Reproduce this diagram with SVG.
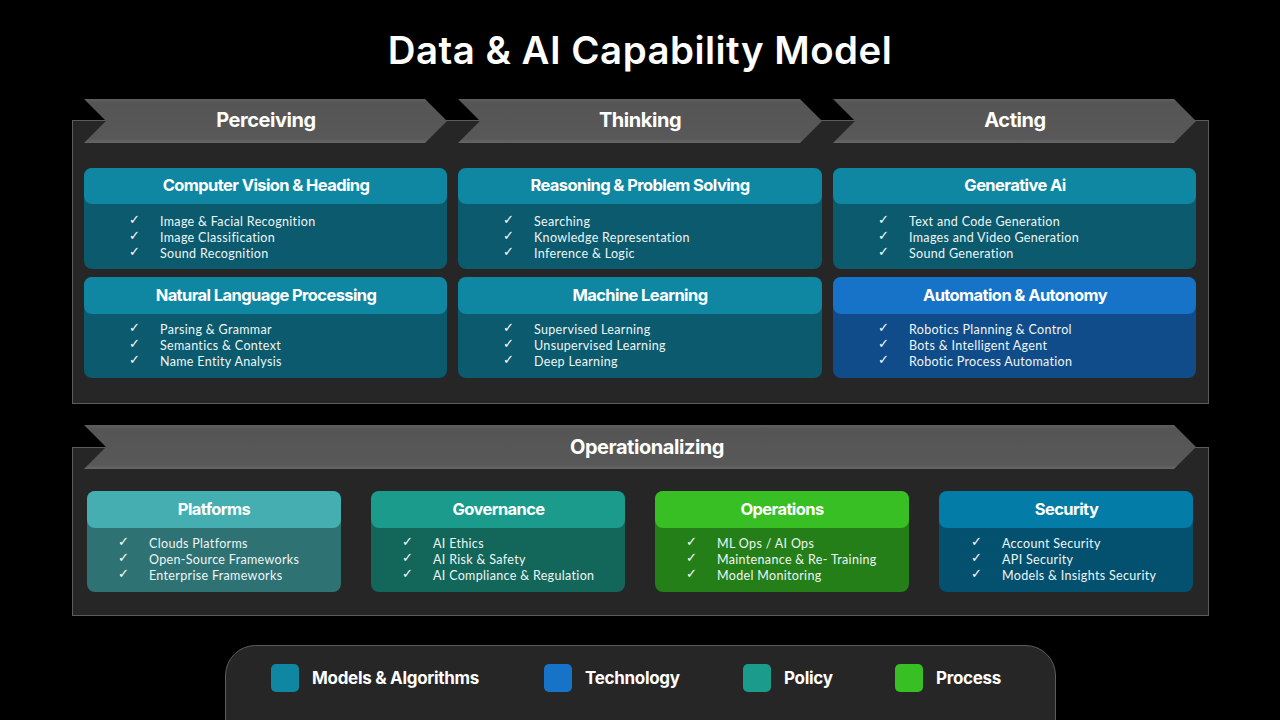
<svg xmlns="http://www.w3.org/2000/svg" width="1280" height="720" viewBox="0 0 1280 720">
<style>
text{font-family:"Inter","Liberation Sans",sans-serif;fill:#fff}
.title{font-size:38.400px;font-weight:600;text-anchor:middle;letter-spacing:.5px}
.ch{font-size:20px;font-weight:700;text-anchor:middle;letter-spacing:-.45px}
.h{font-size:16.500px;font-weight:700;text-anchor:middle;letter-spacing:-.6px}
.b{font-family:"Lato","Liberation Sans",sans-serif;font-size:12.500px;fill:#eef6f6;letter-spacing:.33px}
.c{font-family:"DejaVu Sans",sans-serif;font-size:13px;fill:#fff}
.l{font-size:17px;font-weight:700;letter-spacing:-.3px}
.panel{fill:#262626;stroke:#5c5c5c;stroke-width:1}
.chev{fill:url(#cg)}
</style>
<defs>
<linearGradient id="cg" x1="0" y1="0" x2="0" y2="1"><stop offset="0" stop-color="#5e5e5e"/><stop offset=".1" stop-color="#555"/><stop offset=".9" stop-color="#585858"/><stop offset="1" stop-color="#666"/></linearGradient>
</defs>
<rect width="1280" height="720" fill="#000"/>
<text class="title" x="640" y="64">Data &amp; AI Capability Model</text>
<rect class="panel" x="72.500" y="120.500" width="1136" height="283"/>
<rect class="panel" x="72.500" y="447.500" width="1136" height="168"/>
<g id="chev-perceiving"><path class="chev" d="M84 99H425L447 121L425 143H84L106 121Z"/><text class="ch" x="266" y="126.500">Perceiving</text></g>
<g id="chev-thinking"><path class="chev" d="M458 99H800L822 121L800 143H458L480 121Z"/><text class="ch" x="640" y="126.500">Thinking</text></g>
<g id="chev-acting"><path class="chev" d="M833 99H1174L1196 121L1174 143H833L855 121Z"/><text class="ch" x="1015" y="126.500">Acting</text></g>
<g id="chev-operationalizing"><path class="chev" d="M84 425H1174L1196 447L1174 469H84L106 447Z"/><text class="ch" x="647" y="453.500">Operationalizing</text></g>

<g id="card-vision"><rect x="84" y="168" width="363" height="101" rx="8" fill="#0b5a6e"/><rect x="84" y="168" width="363" height="36" rx="8" fill="#0f87a3"/><text class="h" x="266" y="190.500">Computer Vision &amp; Heading</text>
<text class="c" x="129" y="224">✓</text><text class="b" x="160" y="225.500">Image &amp; Facial Recognition</text>
<text class="c" x="129" y="240">✓</text><text class="b" x="160" y="241.500">Image Classification</text>
<text class="c" x="129" y="256">✓</text><text class="b" x="160" y="257.500">Sound Recognition</text></g>

<g id="card-reasoning"><rect x="458" y="168" width="364" height="101" rx="8" fill="#0b5a6e"/><rect x="458" y="168" width="364" height="36" rx="8" fill="#0f87a3"/><text class="h" x="640" y="190.500">Reasoning &amp; Problem Solving</text>
<text class="c" x="503" y="224">✓</text><text class="b" x="534" y="225.500">Searching</text>
<text class="c" x="503" y="240">✓</text><text class="b" x="534" y="241.500">Knowledge Representation</text>
<text class="c" x="503" y="256">✓</text><text class="b" x="534" y="257.500">Inference &amp; Logic</text></g>

<g id="card-generative"><rect x="833" y="168" width="363" height="101" rx="8" fill="#0b5a6e"/><rect x="833" y="168" width="363" height="36" rx="8" fill="#0f87a3"/><text class="h" x="1015" y="190.500">Generative Ai</text>
<text class="c" x="878" y="224">✓</text><text class="b" x="909" y="225.500">Text and Code Generation</text>
<text class="c" x="878" y="240">✓</text><text class="b" x="909" y="241.500">Images and Video Generation</text>
<text class="c" x="878" y="256">✓</text><text class="b" x="909" y="257.500">Sound Generation</text></g>

<g id="card-nlp"><rect x="84" y="277" width="363" height="101" rx="8" fill="#0b5a6e"/><rect x="84" y="277" width="363" height="37" rx="8" fill="#0f87a3"/><text class="h" x="266" y="300.500">Natural Language Processing</text>
<text class="c" x="129" y="332">✓</text><text class="b" x="160" y="333.500">Parsing &amp; Grammar</text>
<text class="c" x="129" y="348">✓</text><text class="b" x="160" y="349.500">Semantics &amp; Context</text>
<text class="c" x="129" y="364">✓</text><text class="b" x="160" y="365.500">Name Entity Analysis</text></g>

<g id="card-ml"><rect x="458" y="277" width="364" height="101" rx="8" fill="#0b5a6e"/><rect x="458" y="277" width="364" height="37" rx="8" fill="#0f87a3"/><text class="h" x="640" y="300.500">Machine Learning</text>
<text class="c" x="503" y="332">✓</text><text class="b" x="534" y="333.500">Supervised Learning</text>
<text class="c" x="503" y="348">✓</text><text class="b" x="534" y="349.500">Unsupervised Learning</text>
<text class="c" x="503" y="364">✓</text><text class="b" x="534" y="365.500">Deep Learning</text></g>

<g id="card-automation"><rect x="833" y="277" width="363" height="101" rx="8" fill="#114c8a"/><rect x="833" y="277" width="363" height="37" rx="8" fill="#1673c7"/><text class="h" x="1015" y="300.500">Automation &amp; Autonomy</text>
<text class="c" x="878" y="332">✓</text><text class="b" x="909" y="333.500">Robotics Planning &amp; Control</text>
<text class="c" x="878" y="348">✓</text><text class="b" x="909" y="349.500">Bots &amp; Intelligent Agent</text>
<text class="c" x="878" y="364">✓</text><text class="b" x="909" y="365.500">Robotic Process Automation</text></g>

<g id="card-platforms"><rect x="87" y="491" width="254" height="101" rx="8" fill="#2f7273"/><rect x="87" y="491" width="254" height="37" rx="8" fill="#45aeb1"/><text class="h" x="214" y="514.500">Platforms</text>
<text class="c" x="118" y="546">✓</text><text class="b" x="149" y="547.500">Clouds Platforms</text>
<text class="c" x="118" y="562">✓</text><text class="b" x="149" y="563.500">Open-Source Frameworks</text>
<text class="c" x="118" y="578">✓</text><text class="b" x="149" y="579.500">Enterprise Frameworks</text></g>

<g id="card-governance"><rect x="371" y="491" width="254" height="101" rx="8" fill="#13665a"/><rect x="371" y="491" width="254" height="37" rx="8" fill="#1a9b8b"/><text class="h" x="498.500" y="514.500">Governance</text>
<text class="c" x="402" y="546">✓</text><text class="b" x="433" y="547.500">AI Ethics</text>
<text class="c" x="402" y="562">✓</text><text class="b" x="433" y="563.500">AI Risk &amp; Safety</text>
<text class="c" x="402" y="578">✓</text><text class="b" x="433" y="579.500">AI Compliance &amp; Regulation</text></g>

<g id="card-operations"><rect x="655" y="491" width="254" height="101" rx="8" fill="#257f18"/><rect x="655" y="491" width="254" height="37" rx="8" fill="#37bf23"/><text class="h" x="782" y="514.500">Operations</text>
<text class="c" x="686" y="546">✓</text><text class="b" x="717" y="547.500">ML Ops / AI Ops</text>
<text class="c" x="686" y="562">✓</text><text class="b" x="717" y="563.500">Maintenance &amp; Re- Training</text>
<text class="c" x="686" y="578">✓</text><text class="b" x="717" y="579.500">Model Monitoring</text></g>

<g id="card-security"><rect x="939" y="491" width="254" height="101" rx="8" fill="#04516f"/><rect x="939" y="491" width="254" height="37" rx="8" fill="#047ca8"/><text class="h" x="1066.500" y="514.500">Security</text>
<text class="c" x="971" y="546">✓</text><text class="b" x="1002" y="547.500">Account Security</text>
<text class="c" x="971" y="562">✓</text><text class="b" x="1002" y="563.500">API Security</text>
<text class="c" x="971" y="578">✓</text><text class="b" x="1002" y="579.500">Models &amp; Insights Security</text></g>

<g id="legend"><path d="M225.500 721V675A30 30 0 0 1 255.500 645.500H1026A30 30 0 0 1 1055.500 675V721Z" fill="#262626" stroke="#5c5c5c"/>
<rect x="271" y="664" width="28" height="28" rx="5" fill="#0f87a3"/><text class="l" x="312" y="683.500">Models &amp; Algorithms</text>
<rect x="544" y="664" width="28" height="28" rx="5" fill="#1673c7"/><text class="l" x="585" y="683.500">Technology</text>
<rect x="743" y="664" width="28" height="28" rx="5" fill="#1a9b8b"/><text class="l" x="784" y="683.500">Policy</text>
<rect x="895" y="664" width="28" height="28" rx="5" fill="#37bf23"/><text class="l" x="936" y="683.500">Process</text></g>
</svg>
